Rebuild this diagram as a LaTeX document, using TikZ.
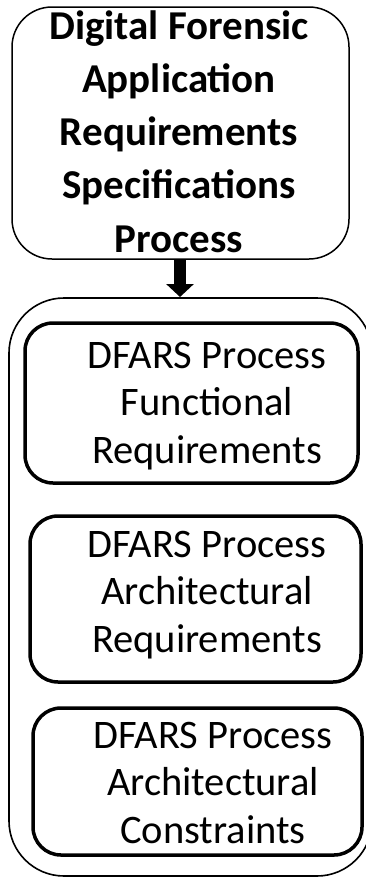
\documentclass[tikz,border=0pt]{standalone}
\usepackage{fontspec}
\setmainfont{Carlito}
\usetikzlibrary{arrows.meta}
\tikzset{
  topbox/.style={draw=black, line width=1.5pt, rounded corners=40pt},
  outerbox/.style={draw=black, line width=1.6pt, rounded corners=55pt},
  innerbox/.style={draw=black, line width=3.5pt, rounded corners=28pt},
  toptext/.style={align=center, font=\fontsize{41}{53.25}\selectfont\bfseries, inner sep=0pt},
  innertext/.style={align=center, font=\fontsize{40.5}{47.5}\selectfont, inner sep=0pt},
  bigarrow/.style={line width=12pt, -{Triangle[width=27pt,length=13pt]}}
}
\begin{document}
\begin{tikzpicture}[x=1pt,y=-1pt]
\useasboundingbox (0,0) rectangle (366,878);
% top box
\draw[topbox] (12,7) rectangle (349,259);
\coordinate (topS) at (180,259);
\node[toptext, anchor=base] (toptxt) at (179,252) {Digital Forensic\\Application\\Requirements\\Specifications\\Process};
% outer container
\draw[outerbox] (9,298) rectangle (372,876);
\coordinate (outerN) at (180,297);
\draw[bigarrow] (topS) -- (outerN);
% inner boxes
\draw[innerbox] (25,323) rectangle (358,483);
\node[innertext, anchor=base] (t1) at (207,463) {DFARS Process\\Functional\\Requirements};
\draw[innerbox] (30,516) rectangle (361,682);
\node[innertext, anchor=base] (t2) at (207,652) {DFARS Process\\Architectural\\Requirements};
\draw[innerbox] (33,708) rectangle (362,855);
\node[innertext, anchor=base] (t3) at (213,843) {DFARS Process\\Architectural\\Constraints};
\end{tikzpicture}
\end{document}
